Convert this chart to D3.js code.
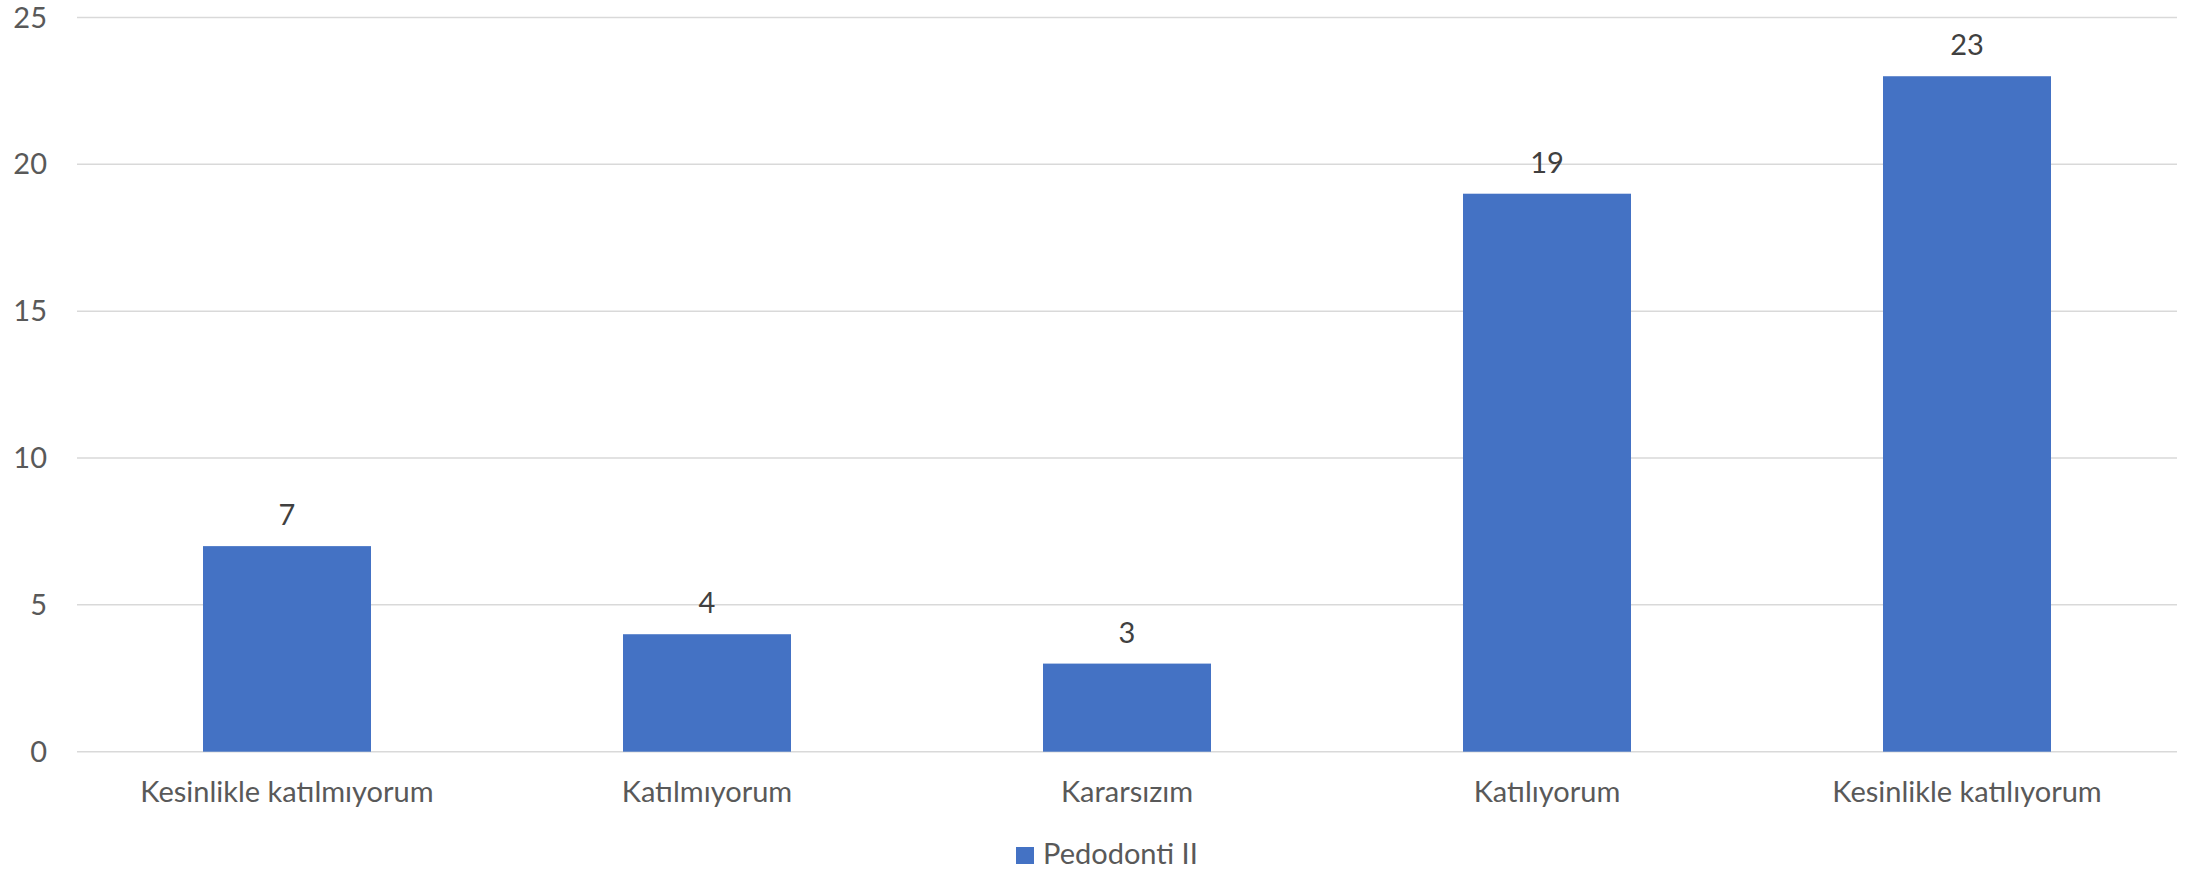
<!DOCTYPE html>
<html>
<head>
<meta charset="utf-8">
<script src="https://cdn.jsdelivr.net/npm/d3@7"></script>
<style>
  body { margin: 0; background: #fff; }
  text { font-family: Lato, "Open Sans", sans-serif; }
</style>
</head>
<body>
<div id="chart"></div>
<script>
(function () {
    'use strict';
    var categories = ["Kesinlikle katılmıyorum", "Katılmıyorum", "Kararsızım", "Katılıyorum", "Kesinlikle katılıyorum"],
        values = [7, 4, 3, 19, 23],
        yTicks = [0, 5, 10, 15, 20, 25],
        seriesName = "Pedodonti II",
        width = 2188, height = 872,
        left = 77, right = 2177, top = 17.5, bottom = 751.7,
        fontSize = "29px",
        barColor = "#4472C4";

    var svg = d3.select("#chart").append("svg")
        .attr("width", width)
        .attr("height", height);

    var x = d3.scaleBand().domain(categories).range([left, right]).paddingInner(0.6).paddingOuter(0.3);
    var y = d3.scaleLinear().domain([0, 25]).range([bottom, top]);

    // gridlines
    svg.selectAll("line.grid")
        .data(yTicks)
        .enter().append("line")
        .attr("class", "grid")
        .attr("x1", left).attr("x2", right)
        .attr("y1", function (d) { return y(d); })
        .attr("y2", function (d) { return y(d); })
        .attr("stroke", "#d9d9d9")
        .attr("stroke-width", 1.5);

    // y tick labels
    svg.selectAll("text.ytick")
        .data(yTicks)
        .enter().append("text")
        .attr("class", "ytick")
        .attr("x", 47)
        .attr("y", function (d) { return y(d) + 10; })
        .attr("text-anchor", "end")
        .attr("fill", "#595959")
        .style("font-size", fontSize)
        .text(function (d) { return d; });

    // bars
    svg.selectAll("rect.bar")
        .data(values)
        .enter().append("rect")
        .attr("class", "bar")
        .attr("x", function (d, i) { return x(categories[i]); })
        .attr("width", x.bandwidth())
        .attr("y", function (d) { return y(d); })
        .attr("height", function (d) { return y(0) - y(d); })
        .attr("fill", barColor);

    // value labels
    svg.selectAll("text.val")
        .data(values)
        .enter().append("text")
        .attr("class", "val")
        .attr("x", function (d, i) { return x(categories[i]) + x.bandwidth() / 2; })
        .attr("y", function (d) { return y(d) - 21; })
        .attr("text-anchor", "middle")
        .attr("fill", "#404040")
        .style("font-size", fontSize)
        .text(function (d) { return d; });

    // category labels
    svg.selectAll("text.cat")
        .data(categories)
        .enter().append("text")
        .attr("class", "cat")
        .attr("x", function (d) { return x(d) + x.bandwidth() / 2; })
        .attr("y", 802)
        .attr("text-anchor", "middle")
        .attr("fill", "#595959")
        .style("font-size", fontSize)
        .text(function (d) { return d; });

    // legend
    var legend = svg.append("g").attr("transform", "translate(1016,847)");
    legend.append("rect").attr("width", 18).attr("height", 17).attr("fill", barColor);
    legend.append("text")
        .attr("x", 27).attr("y", 17)
        .attr("fill", "#595959")
        .style("font-size", fontSize)
        .text(seriesName);
}());
</script>
</body>
</html>
